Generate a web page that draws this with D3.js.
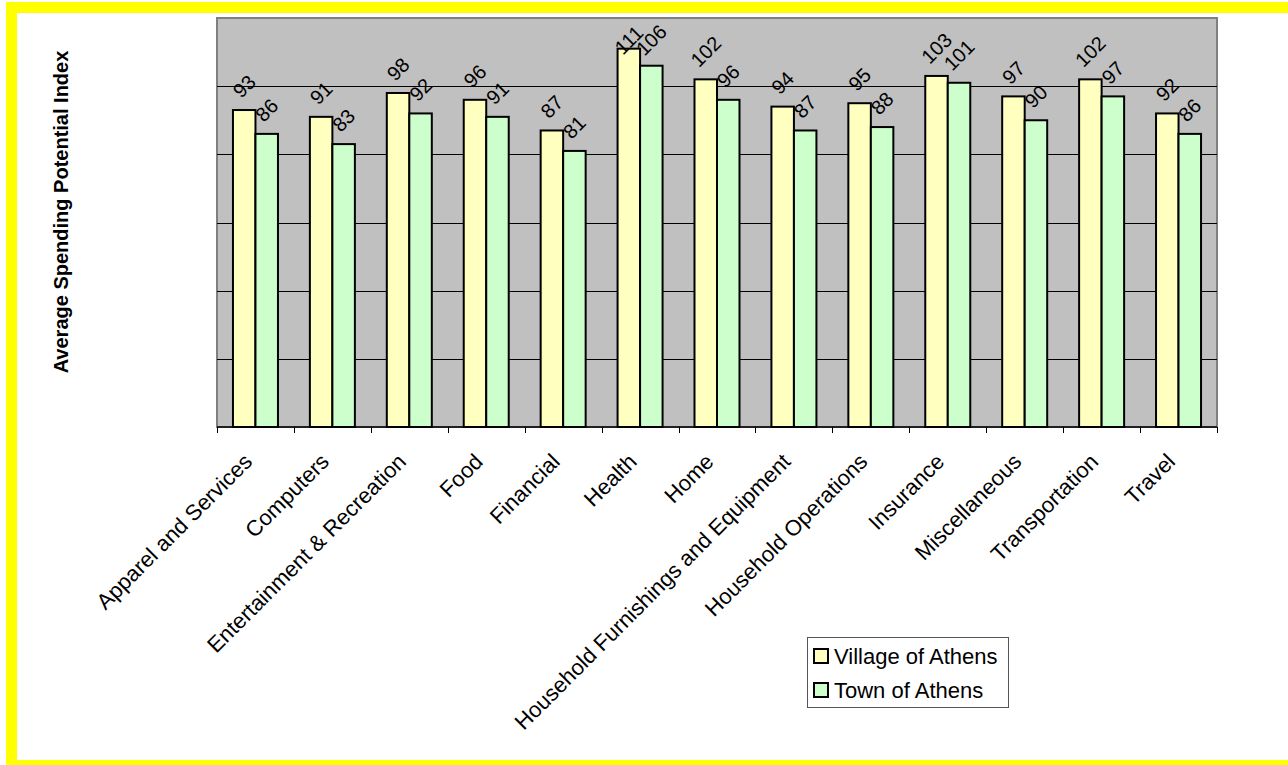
<!DOCTYPE html>
<html>
<head>
<meta charset="utf-8">
<script src="https://cdn.jsdelivr.net/npm/d3@7"></script>
<style>
  body { margin: 0; background: #fff; }
  svg text { font-family: "Liberation Sans", Arial, sans-serif; fill: #000; }
</style>
</head>
<body>
<div id="chart"></div>
<script>
const categories = ["Apparel and Services", "Computers", "Entertainment & Recreation", "Food",
    "Financial", "Health", "Home", "Household Furnishings and Equipment",
    "Household Operations", "Insurance", "Miscellaneous", "Transportation", "Travel"];
const seriesNames = ["Village of Athens", "Town of Athens"];
const villageValues = [93, 91, 98, 96, 87, 111, 102, 94, 95, 103, 97, 102, 92];
const townValues = [86, 83, 92, 91, 81, 106, 96, 87, 88, 101, 90, 97, 86];
const seriesColors = ["#FFFFC0", "#CCFFCC"];
const yMaxValue = 120;

const width = 1288, height = 765;
const plot = { left: 217, top: 18, right: 1217, bottom: 427 };

const svg = d3.select("#chart").append("svg")
    .attr("width", width)
    .attr("height", height);

// outer yellow frame
svg.append("rect")
    .attr("x", 11.5).attr("y", 7.5)
    .attr("width", 1300).attr("height", 758)
    .attr("fill", "none")
    .attr("stroke", "#FFFF00")
    .attr("stroke-width", 11);

const x = d3.scaleBand()
    .domain(categories)
    .range([plot.left, plot.right])
    .paddingInner(0.415)
    .paddingOuter(0.2075);

const xSeries = d3.scaleBand()
    .domain(seriesNames)
    .range([0, x.bandwidth()]);

const y = d3.scaleLinear()
    .domain([0, yMaxValue])
    .range([plot.bottom, plot.top]);

// plot area
svg.append("rect")
    .attr("x", plot.left).attr("y", plot.top)
    .attr("width", plot.right - plot.left)
    .attr("height", plot.bottom - plot.top)
    .attr("fill", "#C0C0C0")
    .attr("stroke", "#808080")
    .attr("stroke-width", 2);

// gridlines
svg.append("g").selectAll("line")
    .data(y.ticks(6).filter(t => t > 0 && t < yMaxValue))
    .enter().append("line")
    .attr("x1", plot.left).attr("x2", plot.right)
    .attr("y1", d => Math.round(y(d)) + 0.5)
    .attr("y2", d => Math.round(y(d)) + 0.5)
    .attr("stroke", "#000")
    .attr("stroke-width", 1);

// bars
const data = categories.map((c, i) => ({
    category: c,
    values: [
        { series: seriesNames[0], value: villageValues[i], color: seriesColors[0] },
        { series: seriesNames[1], value: townValues[i], color: seriesColors[1] }
    ]
}));

const groups = svg.append("g").selectAll("g")
    .data(data)
    .enter().append("g")
    .attr("transform", d => "translate(" + x(d.category) + ",0)");

groups.selectAll("rect")
    .data(d => d.values)
    .enter().append("rect")
    .attr("x", d => xSeries(d.series))
    .attr("y", d => y(d.value))
    .attr("width", xSeries.bandwidth())
    .attr("height", d => y(0) - y(d.value))
    .attr("fill", d => d.color)
    .attr("stroke", "#000")
    .attr("stroke-width", 2);

// value labels, rotated
groups.selectAll("text")
    .data(d => d.values)
    .enter().append("text")
    .attr("text-anchor", "middle")
    .attr("dy", "0.35em")
    .style("font-size", "20px")
    .text(d => d.value)
    .attr("transform", function (d) {
        const w = this.getComputedTextLength();
        const boxH = (w + 14) * 0.707;
        const cx = xSeries(d.series) + xSeries.bandwidth() / 2;
        const cy = Math.max(y(d.value) - 11 - boxH / 2, 40);
        return "translate(" + cx + "," + cy + ") rotate(-45)";
    });

// x axis
const xAxis = svg.append("g")
    .attr("transform", "translate(0," + plot.bottom + ")");

xAxis.append("line")
    .attr("x1", plot.left).attr("x2", plot.right)
    .attr("y1", 0).attr("y2", 0)
    .attr("stroke", "#000")
    .attr("stroke-width", 1.5);

const boundaries = categories.map(c => x(c) - x.step() * x.paddingInner() / 2)
    .concat([plot.right]);
xAxis.selectAll("line.tick")
    .data(boundaries)
    .enter().append("line")
    .attr("class", "tick")
    .attr("x1", d => Math.round(d) + 0.5).attr("x2", d => Math.round(d) + 0.5)
    .attr("y1", 0).attr("y2", 6)
    .attr("stroke", "#000");

xAxis.selectAll("text")
    .data(categories)
    .enter().append("text")
    .attr("text-anchor", "end")
    .style("font-size", "22px")
    .attr("transform", d => "translate(" + (x(d) + x.bandwidth() / 2 - 2) + ",36) rotate(-45)")
    .text(d => d);

// y axis title
svg.append("text")
    .attr("transform", "translate(68,212) rotate(-90)")
    .attr("text-anchor", "middle")
    .style("font-size", "20px")
    .style("font-weight", "bold")
    .text("Average Spending Potential Index");

// legend
const legend = svg.append("g")
    .attr("transform", "translate(807,637)");

legend.append("rect")
    .attr("x", 0.5).attr("y", 0.5)
    .attr("width", 201).attr("height", 70)
    .attr("fill", "#fff")
    .attr("stroke", "#555")
    .attr("stroke-width", 1);

const items = legend.selectAll("g.item")
    .data(seriesNames)
    .enter().append("g")
    .attr("class", "item")
    .attr("transform", (d, i) => "translate(0," + (19 + i * 34) + ")");

items.append("rect")
    .attr("x", 7).attr("y", -7)
    .attr("width", 14).attr("height", 14)
    .attr("fill", (d, i) => seriesColors[i])
    .attr("stroke", "#000")
    .attr("stroke-width", 2);

items.append("text")
    .attr("x", 27)
    .attr("y", 8)
    .style("font-size", "22px")
    .text(d => d);
</script>
</body>
</html>
